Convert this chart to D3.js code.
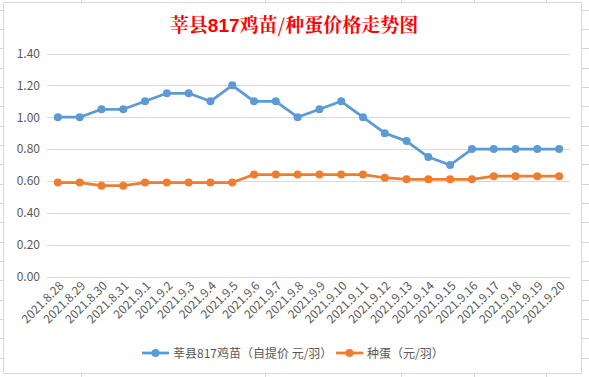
<!DOCTYPE html>
<html>
<head>
<meta charset="utf-8">
<script src="https://cdn.jsdelivr.net/npm/d3@7"></script>
<style>
  body { margin: 0; background: #fff; }
  svg text { font-family: "Microsoft YaHei", "Noto Sans CJK SC", "Noto Sans", sans-serif; }
</style>
</head>
<body>
<div id="chart-container"></div>
<script>

//Chart data

const dates = ["2021.8.28", "2021.8.29", "2021.8.30", "2021.8.31", "2021.9.1", "2021.9.2",
    "2021.9.3", "2021.9.4", "2021.9.5", "2021.9.6", "2021.9.7", "2021.9.8", "2021.9.9",
    "2021.9.10", "2021.9.11", "2021.9.12", "2021.9.13", "2021.9.14", "2021.9.15",
    "2021.9.16", "2021.9.17", "2021.9.18", "2021.9.19", "2021.9.20"];

const chickPrice = [1.00, 1.00, 1.05, 1.05, 1.10, 1.15, 1.15, 1.10, 1.20, 1.10, 1.10, 1.00,
    1.05, 1.10, 1.00, 0.90, 0.85, 0.75, 0.70, 0.80, 0.80, 0.80, 0.80, 0.80];

const eggPrice = [0.59, 0.59, 0.57, 0.57, 0.59, 0.59, 0.59, 0.59, 0.59, 0.64, 0.64, 0.64,
    0.64, 0.64, 0.64, 0.62, 0.61, 0.61, 0.61, 0.61, 0.63, 0.63, 0.63, 0.63];

const yTicks = [0, 0.2, 0.4, 0.6, 0.8, 1.0, 1.2, 1.4];

const seriesNames = ["莘县817鸡苗（自提价 元/羽）", "种蛋（元/羽）"];
const colors = ["#5B9BD5", "#ED7D31"];

//Spreadsheet grid behind the chart (row and column lines)
const sheetRows = [10, 29, 48, 68, 87, 106, 126, 145, 164, 184, 203, 222, 242, 261, 280, 300, 319, 338, 358];
const sheetCols = [81, 265, 401, 474, 546];

//Dimensions

const W = 589, H = 377;
const plot = { left: 47, right: 570, top: 53.5, bottom: 276.5 };

const svg = d3.select("#chart-container")
    .append("svg")
        .attr("width", W)
        .attr("height", H);

//Background sheet gridlines

svg.selectAll(".rowLine")
    .data(sheetRows)
    .join("line")
    .attr("x1", 0).attr("x2", W)
    .attr("y1", d => d + 0.5).attr("y2", d => d + 0.5)
    .attr("stroke", "#d4d4d4");

svg.selectAll(".colLine")
    .data(sheetCols)
    .join("line")
    .attr("x1", d => d + 0.5).attr("x2", d => d + 0.5)
    .attr("y1", 0).attr("y2", H)
    .attr("stroke", "#d4d4d4");

//Chart area

svg.append("rect")
    .attr("x", 3.5)
    .attr("y", 2.5)
    .attr("width", 578)
    .attr("height", 371)
    .attr("fill", "#fff")
    .attr("stroke", "#d9d9d9");

//Scales

const x = d3.scalePoint()
    .domain(dates)
    .range([plot.left, plot.right])
    .padding(0.5);

const y = d3.scaleLinear()
    .domain([0, 1.4])
    .range([plot.bottom, plot.top]);

//Horizontal gridlines

svg.selectAll(".yGrid")
    .data(yTicks)
    .join("line")
    .attr("x1", plot.left)
    .attr("x2", plot.right)
    .attr("y1", d => Math.round(y(d)) + 0.5)
    .attr("y2", d => Math.round(y(d)) + 0.5)
    .attr("stroke", "#d9d9d9")
    .attr("stroke-width", 1);

//Y axis

svg.append("g")
    .attr("transform", `translate(${plot.left - 7},0)`)
    .style("font-size", "12px")
    .call(d3.axisLeft(y)
        .tickValues(yTicks)
        .tickFormat(d3.format(".2f"))
        .tickSize(0)
        .tickPadding(0))
    .call(g => g.select(".domain").remove())
    .selectAll(".tick text")
    .style("fill", "#595959");

//X axis

svg.append("g")
    .attr("transform", `translate(0,${plot.bottom})`)
    .style("font-size", "12px")
    .call(d3.axisBottom(x).tickSize(0).tickPadding(0))
    .call(g => g.select(".domain").remove())
    .selectAll(".tick text")
    .style("fill", "#595959")
    .attr("text-anchor", "end")
    .attr("dy", null)
    .attr("y", 0)
    .attr("transform", "translate(6,10) rotate(-45)");

//Lines and markers

const series = [chickPrice, eggPrice];

const line = d3.line()
    .x((d, i) => x(dates[i]))
    .y(d => y(d));

series.forEach((values, s) => {
    svg.append("path")
        .datum(values)
        .attr("fill", "none")
        .attr("stroke", colors[s])
        .attr("stroke-width", 2.75)
        .attr("stroke-linejoin", "round")
        .attr("d", line);

    svg.append("g")
        .selectAll("circle")
        .data(values)
        .join("circle")
        .attr("cx", (d, i) => x(dates[i]))
        .attr("cy", d => y(d))
        .attr("r", 4)
        .attr("fill", colors[s]);
});

//Title

const title = svg.append("text")
    .attr("x", 294)
    .attr("y", 32)
    .attr("text-anchor", "middle")
    .style("font-size", "19px")
    .style("font-weight", "bold")
    .style("fill", "#FF0000")
    .style("font-family", "'Noto Serif CJK SC', 'Noto Sans CJK SC', serif");

title.append("tspan").text("莘县");
title.append("tspan")
    .style("font-family", "'Liberation Sans', Arial, sans-serif")
    .text("817");
title.append("tspan").text("鸡苗/种蛋价格走势图");

//Legend

const legendX = [142, 336];
const legend = svg.selectAll(".legend")
    .data(seriesNames)
    .join("g")
    .attr("transform", (d, i) => `translate(${legendX[i]},353)`);

legend.append("line")
    .attr("x1", 0).attr("x2", 27)
    .attr("stroke", (d, i) => colors[i])
    .attr("stroke-width", 2.75);

legend.append("circle")
    .attr("cx", 13.5)
    .attr("r", 4)
    .attr("fill", (d, i) => colors[i]);

legend.append("text")
    .attr("x", 31)
    .attr("y", 4.5)
    .style("font-size", "12px")
    .style("fill", "#595959")
    .text(d => d);

</script>
</body>
</html>
